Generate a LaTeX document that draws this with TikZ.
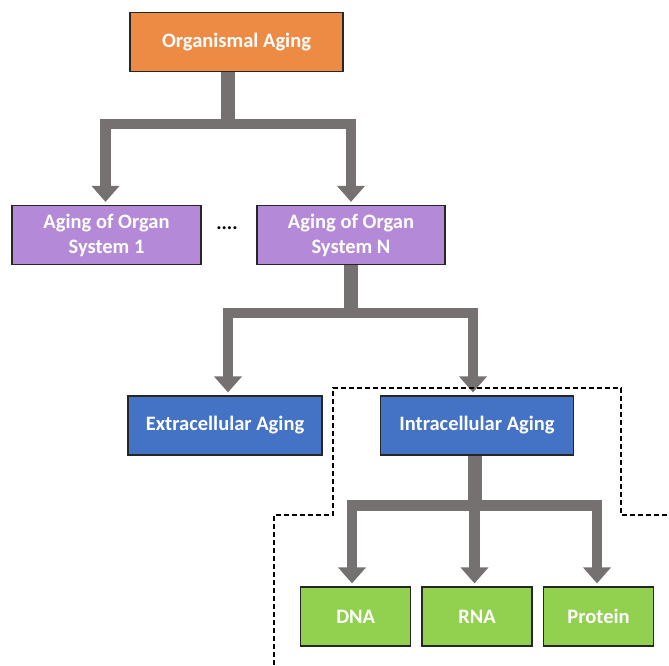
\documentclass[tikz,border=0pt]{standalone}
\usepackage{fontspec}
\setmainfont{Carlito}
\usetikzlibrary{arrows.meta,calc}
\definecolor{orgOrange}{HTML}{ED8B45}
\definecolor{orgPurple}{HTML}{B48AD8}
\definecolor{orgBlue}{HTML}{4472C4}
\definecolor{orgGreen}{HTML}{92D050}
\definecolor{arrGray}{HTML}{767171}
\tikzset{
  box/.style={draw=black!85, line width=1.2pt, minimum height=59pt, align=center,
    text=white, font=\fontsize{20.5}{25}\selectfont\bfseries, inner sep=0pt},
  arr/.style={draw=arrGray, line width=10.5pt, -{Triangle[width=27pt,length=16pt]}, shorten >=3pt},
  stem/.style={draw=arrGray, line width=14pt},
  zone/.style={draw=black, line width=1.2pt, dash pattern=on 5pt off 3pt}
}
\begin{document}
\begin{tikzpicture}[x=1pt,y=-1pt]
\useasboundingbox (0,0) rectangle (669,665);
\node[box, fill=orgOrange, minimum width=213pt] (top) at (236.5,42) {Organismal Aging};
\node[box, fill=orgPurple, minimum width=189pt] (sys1) at (106.5,235) {Aging of Organ\\System 1};
\node[box, fill=orgPurple, minimum width=188pt] (sysN) at (351,235) {Aging of Organ\\System N};
\node[font=\fontsize{20}{20}\selectfont\bfseries] (dots) at (227,228) {....};
\node[box, fill=orgBlue, minimum width=194pt] (ext) at (225,425.5) {Extracellular Aging};
\node[box, fill=orgBlue, minimum width=193pt] (intra) at (477,425.5) {Intracellular Aging};
\node[box, fill=orgGreen, minimum width=110pt] (dna) at (355.7,616.5) {DNA};
\node[box, fill=orgGreen, minimum width=110pt] (rna) at (477,616.5) {RNA};
\node[box, fill=orgGreen, minimum width=110pt] (prot) at (598.5,616.5) {Protein};
% connectors
\coordinate (j1) at (228,124);
\draw[stem] (top.south -| j1) -- ($(j1)+(0,5)$);
\draw[arr] (j1) -| ($(sys1.north)+(-1,0)$);
\draw[arr] (j1) -| (sysN.north);
\coordinate (j2) at (351,313);
\draw[stem] (sysN.south) -- ($(j2)+(0,5)$);
\draw[arr] (j2) -| ($(ext.north)+(3,0)$);
\draw[arr] (j2) -| ($(intra.north)+(-4,0)$);
\coordinate (j3) at (474.5,505.7);
\draw[stem] (intra.south -| j3) -- ($(j3)+(0,5)$);
\draw[arr] (j3) -| ($(dna.north)+(-3.7,0)$);
\draw[arr] (j3) -| ($(prot.north)+(-1.5,0)$);
\draw[arr] (j3) -- ($(rna.north)+(-2.5,0)$);
% dashed zone
\coordinate (d0) at (274,665);
\coordinate (d1) at (274,515);
\coordinate (d2) at (333,515);
\coordinate (d3) at (333,388);
\coordinate (d4) at (621,388);
\coordinate (d5) at (621,515);
\coordinate (d6) at (669,515);
\draw[zone] (d0) -- (d1) -- (d2) -- (d3) -- (d4) -- (d5) -- (d6);
\end{tikzpicture}
\end{document}
